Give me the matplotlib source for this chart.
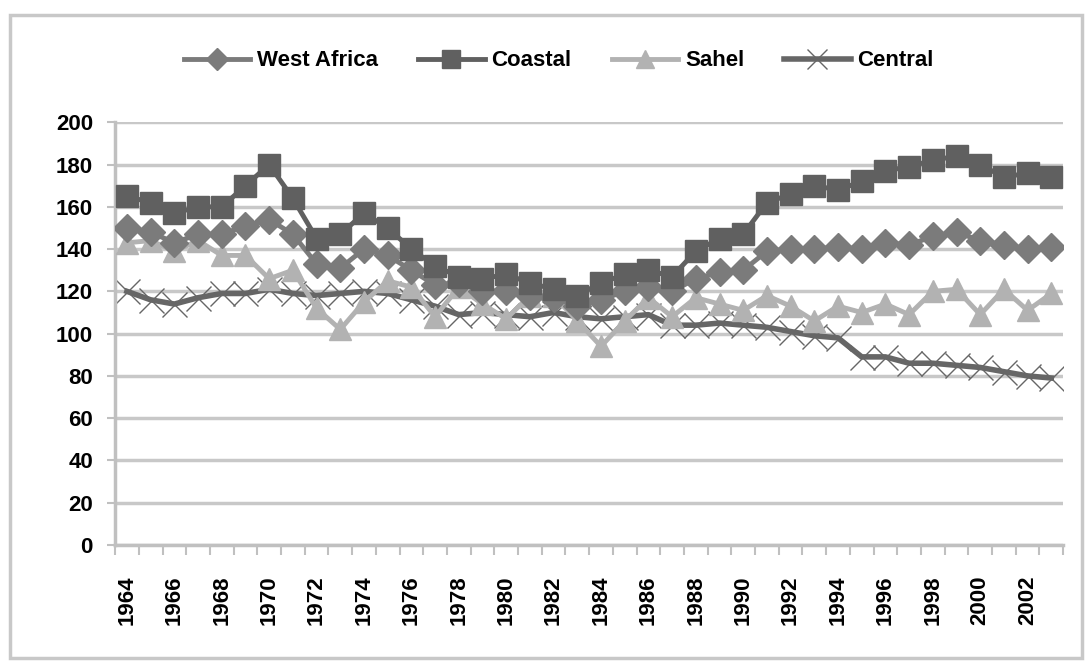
import numpy as np
import matplotlib
matplotlib.use('Agg')
import matplotlib.pyplot as plt
from matplotlib.patches import Rectangle

# Data
years = list(range(1964, 2004))
west_africa = [150, 148, 143, 147, 147, 151, 154, 147, 133, 131,
               140, 137, 130, 123, 124, 120, 120, 118, 117, 113,
               116, 120, 122, 120, 126, 129, 130, 139, 140, 140,
               141, 140, 143, 142, 146, 148, 144, 142, 140, 141]
coastal = [165, 162, 157, 160, 160, 170, 180, 164, 145, 147,
           157, 150, 140, 132, 127, 126, 128, 124, 121, 118,
           124, 128, 130, 127, 139, 145, 147, 162, 166, 170,
           168, 172, 177, 179, 182, 184, 180, 174, 176, 174]
sahel = [143, 144, 139, 144, 137, 137, 126, 130, 112, 102,
         115, 125, 122, 108, 122, 114, 107, 118, 118, 106,
         94, 106, 117, 108, 117, 114, 111, 118, 113, 106,
         113, 110, 114, 109, 120, 121, 109, 121, 111, 119]
central = [120, 116, 114, 117, 119, 119, 121, 119, 118, 119,
           120, 119, 116, 113, 109, 110, 109, 108, 110, 108,
           107, 108, 109, 104, 104, 105, 104, 103, 101, 99,
           98, 89, 89, 86, 86, 85, 84, 82, 80, 79]

plt.rcParams['font.family'] = ['Liberation Sans', 'DejaVu Sans']
plt.rcParams['font.weight'] = 'bold'

fig = plt.figure(figsize=(10.86, 6.61), dpi=100)
fig.patches.append(Rectangle((0.009, 0.004), 0.987, 0.973, transform=fig.transFigure,
                             fill=False, edgecolor='#c8c8c8', linewidth=2.5))
ax = fig.add_axes([0.106, 0.1755, 0.873, 0.6395])

x = np.arange(len(years))
ax.plot(x, west_africa, color='#7b7b7b', lw=3.5, marker='D', ms=14, label='West Africa', zorder=4)
ax.plot(x, coastal, color='#606060', lw=3.5, marker='s', ms=16, label='Coastal', zorder=5)
ax.plot(x, sahel, color='#b2b2b2', lw=3.5, marker='^', ms=16, label='Sahel', zorder=3)
ax.plot(x, central, color='#666666', lw=4, marker='x', ms=18, mew=1, label='Central', zorder=2)

ax.set_ylim(0, 200)
ax.set_yticks(range(0, 201, 20))
ax.set_xlim(-0.5, len(years) - 0.5)
ax.set_xticks(x[::2])
ax.set_xticklabels([str(y) for y in years[::2]], rotation=90, fontsize=16, fontweight='heavy')
ax.set_xticks(np.arange(-0.5, len(years)), minor=True)
ax.tick_params(axis='x', which='major', length=0, pad=22)
ax.tick_params(axis='x', which='minor', length=7, width=1.5, color='#c0c0c0', direction='out')
ax.tick_params(axis='y', length=6, width=1.5, color='#c0c0c0', labelsize=16, pad=10)
for lab in ax.get_yticklabels():
    lab.set_fontweight('heavy')

ax.grid(axis='y', color='#c8c8c8', lw=2.5, zorder=0)
ax.set_axisbelow(True)
for side in ['top', 'right']:
    ax.spines[side].set_visible(False)
for side in ['left', 'bottom']:
    ax.spines[side].set_color('#c0c0c0')
    ax.spines[side].set_linewidth(2.5)

ax.legend(loc='center', bbox_to_anchor=(0.468, 1.145), ncol=4, frameon=False,
          prop={'size': 16, 'weight': 'heavy'}, handlelength=3.0, columnspacing=1.8,
          handletextpad=0.3, markerscale=0.8)

fig.savefig('out.png', dpi=100)
